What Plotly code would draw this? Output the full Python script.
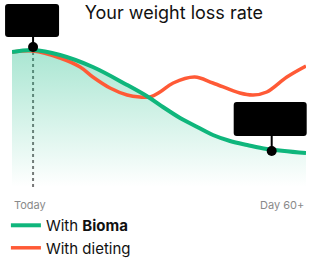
import plotly.graph_objects as go

# Data (x in days, y in relative weight units)
green_x = [0, 4.3, 9.8, 16.5, 23.5, 27.8, 30.8, 34.3, 37.8, 41.0, 44.5, 48.0, 52.0, 60]
green_y = [135, 137, 132, 120, 102, 90, 80, 69, 60, 52, 46, 42, 38, 34]
red_x = [0, 4.3, 9.8, 13.9, 16.5, 20.0, 23.5, 26.1, 28.2, 30.2, 32.9, 37.3, 41.0, 46.5, 49.2, 52.0, 56.1, 60]
red_y = [135, 136, 129, 120, 110, 99, 92, 90, 90, 95, 104, 110, 104, 94, 92, 95, 110, 121]
marker_x = [4.3, 53]
marker_y = [140, 36]
x_labels = ["Today", "Day 60+"]
series_names = ["With <b>Bioma</b>", "With dieting"]

X_RANGE = [0, 60]
GREEN = "#0fb67c"
RED = "#ff5a36"
FONT = "Inter"

fig = go.Figure()
# gradient area under the Bioma curve
fig.add_trace(go.Scatter(
    x=green_x, y=green_y, mode="lines", line=dict(width=0, shape="spline"),
    fill="tozeroy",
    fillgradient=dict(type="vertical",
                      colorscale=[[0, "rgba(16,185,129,0.0)"], [1, "rgba(16,185,129,0.36)"]]),
    showlegend=False, hoverinfo="skip"))
fig.add_trace(go.Scatter(
    x=red_x, y=red_y, mode="lines", line=dict(color=RED, width=3.5, shape="spline"),
    name=series_names[1], legendrank=2))
fig.add_trace(go.Scatter(
    x=green_x, y=green_y, mode="lines", line=dict(color=GREEN, width=4, shape="spline"),
    name=series_names[0], legendrank=1))
fig.add_trace(go.Scatter(
    x=marker_x, y=marker_y, mode="markers", marker=dict(color="black", size=10),
    showlegend=False, hoverinfo="skip", cliponaxis=False))

# dotted "today" line
fig.add_shape(type="line", x0=marker_x[0], x1=marker_x[0], y0=0, y1=marker_y[0],
              line=dict(color="#777", width=2, dash="dot"), layer="below")


def rounded_box(xl, xr, yb, yt, r=3):
    return (f"M{xl+r},{yb} L{xr-r},{yb} Q{xr},{yb} {xr},{yb+r} L{xr},{yt-r} Q{xr},{yt} {xr-r},{yt} "
            f"L{xl+r},{yt} Q{xl},{yt} {xl},{yt-r} L{xl},{yb+r} Q{xl},{yb} {xl+r},{yb} Z")


boxes = [(-28, 26, 10, 43), (-38, 35, 15, 49)]
for (mx, my), (xl, xr, yb, yt) in zip(zip(marker_x, marker_y), boxes):
    fx = (mx - X_RANGE[0]) / (X_RANGE[1] - X_RANGE[0])
    fig.add_shape(type="path", xref="paper", yref="y", xsizemode="pixel", ysizemode="pixel",
                  xanchor=fx, yanchor=my,
                  path=rounded_box(xl, xr, yb, yt), fillcolor="black", line=dict(width=0))
    fig.add_shape(type="path", xref="paper", yref="y", xsizemode="pixel", ysizemode="pixel",
                  xanchor=fx, yanchor=my,
                  path=f"M0,0 L0,{yb}", line=dict(color="black", width=2))

fig.add_annotation(x=0, y=-0.05, xref="paper", yref="paper", text=x_labels[0], showarrow=False,
                   xanchor="left", yanchor="top", font=dict(family=FONT, size=11, color="#8a8a8a"))
fig.add_annotation(x=1, y=-0.05, xref="paper", yref="paper", text=x_labels[1], showarrow=False,
                   xanchor="right", yanchor="top", font=dict(family=FONT, size=11, color="#8a8a8a"))

fig.update_layout(
    width=328, height=260, margin=dict(l=12, r=22, t=0, b=73, autoexpand=False),
    paper_bgcolor="white", plot_bgcolor="white",
    title=dict(text="Your weight loss rate", x=0.53, xanchor="center", y=0.95, yanchor="middle",
               font=dict(family=FONT, size=18, color="#111")),
    xaxis=dict(range=X_RANGE, visible=False, fixedrange=True),
    yaxis=dict(range=[0, 187], visible=False, fixedrange=True),
    showlegend=True,
    legend=dict(xref="container", yref="container", x=0.018, y=0.196, xanchor="left", yanchor="top",
                orientation="v",
                font=dict(family=FONT, size=15, color="#111"), bgcolor="rgba(0,0,0,0)",
                traceorder="normal", tracegroupgap=0),
)

fig.write_html("out.html")
